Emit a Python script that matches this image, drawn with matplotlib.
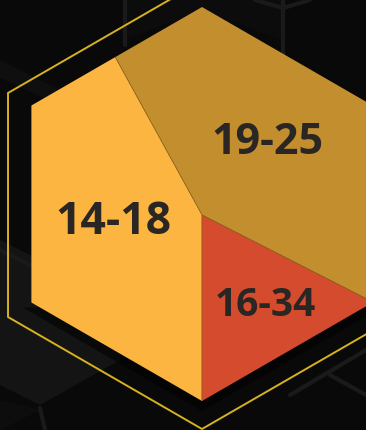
import numpy as np
import matplotlib
matplotlib.use('Agg')
import matplotlib.pyplot as plt
from matplotlib.patches import Polygon

# data
groups = ["19-25", "14-18", "16-34"]
shares = [40.5, 42.0, 17.5]
colours = ["#C28E2E", "#FDB541", "#D44B2D"]

# layout (pixel units, y up)
W, H = 366, 430
pie_centre = (202, 215)
hex_centre, hex_r = (202, 226), 197
ring_centre, ring_r = (202, 225), 224
label_pos = [(267, 288), (113, 207), (265, 124)]
label_size = [31, 32, 28]

def hexagon(c, r):
    ang = np.radians(90 + 60 * np.arange(6))
    return np.column_stack([c[0] + r * np.cos(ang), c[1] + r * np.sin(ang)])

def px(pts):
    # screen-style points (y down) -> axes units
    return [(x, H - y) for x, y in pts]

fig = plt.figure(figsize=(W / 100, H / 100), dpi=100, facecolor="#090909")
ax = fig.add_axes([0, 0, 1, 1])
ax.set_facecolor("#090909")

# blurred cube pattern in the background
faces = [
    ([(0, 240), (120, 300), (120, 360), (40, 405), (0, 385)], "#141414"),
    ([(0, 400), (40, 410), (0, 430)], "#0d0d0d"),
    ([(0, 60), (60, 90), (60, 105), (0, 78)], "#0f0f0f"),
    ([(125, 0), (283, 0), (283, 40), (200, 10), (125, 40)], "#0c0c0c"),
]
for pts, fc in faces:
    ax.add_patch(Polygon(px(pts), closed=True, facecolor=fc, edgecolor="none", zorder=0))
for pts in [[(125, 0), (125, 45)], [(283, 0), (283, 55)], [(283, 8), (310, 0)],
            [(283, 8), (255, 0)], [(290, 395), (366, 350)], [(330, 375), (366, 395)],
            [(40, 408), (45, 430)], [(0, 250), (120, 310)]]:
    ax.plot(*zip(*px(pts)), color="#1a1a1a", lw=3, solid_capstyle="round", zorder=0)

# dark shadow under the lower part, gold outline open on the upper right
shadow = hexagon(hex_centre, hex_r + 10)
ax.add_patch(Polygon(shadow[2:5], closed=True, facecolor="#000000", alpha=0.55,
                     edgecolor="none", zorder=1))
ring = hexagon(ring_centre, ring_r)
ax.plot(ring[:, 0], ring[:, 1], color="#D8B21E", lw=1.4, zorder=2)

wedges, _ = ax.pie(shares, colors=colours, startangle=-27, counterclock=True,
                   center=pie_centre, radius=320, frame=True,
                   wedgeprops=dict(edgecolor="#8a6420", linewidth=0.5))
clip = ax.add_patch(Polygon(hexagon(hex_centre, hex_r), closed=True,
                            facecolor="none", edgecolor="none"))
for w in wedges:
    w.set_zorder(3)
    w.set_clip_on(True)
    w.set_clip_path(clip)

for name, (x, y), s in zip(groups, label_pos, label_size):
    ax.text(x, y, name, ha="center", va="center", fontsize=s,
            fontweight="bold", family="Open Sans", color="#2a2623", zorder=4)

ax.set_xlim(0, W)
ax.set_ylim(0, H)
ax.set_aspect("equal")
ax.axis("off")
fig.savefig("out.png", dpi=100, facecolor=fig.get_facecolor())
